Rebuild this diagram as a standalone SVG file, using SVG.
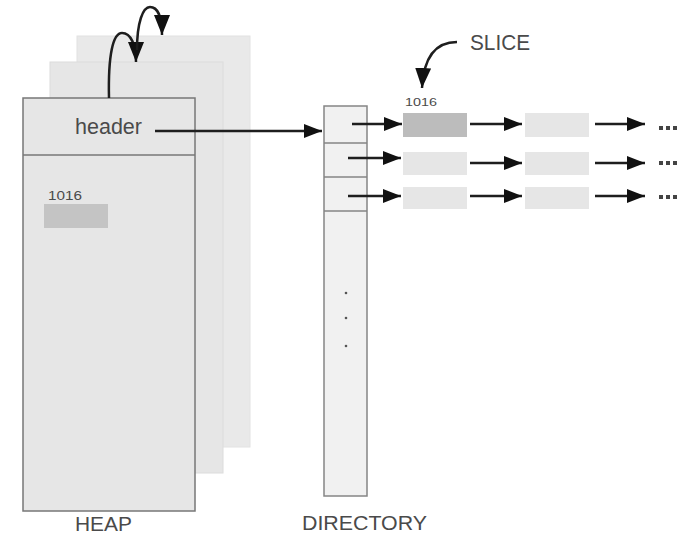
<svg xmlns="http://www.w3.org/2000/svg" width="689" height="535" viewBox="0 0 689 535">
<defs>
<style>
.lbl{font-family:"Liberation Sans",Arial,sans-serif;fill:#4a4a4a}
.p3{fill:#e9e9e9;stroke:#e2e2e2;stroke-width:1}
.p2{fill:#e6e6e6;stroke:#dcdcdc;stroke-width:1}
.front{fill:#e6e6e6;stroke:#777;stroke-width:1.5}
.dir{fill:#f1f1f1;stroke:#858585;stroke-width:1.5}
.cell{fill:#e6e6e6}
.hot{fill:#bcbcbc}
.conn{fill:none;stroke:#1e1e1e;stroke-width:2.5}
.dot{fill:#555}
</style>
<marker id="ah" markerUnits="userSpaceOnUse" markerWidth="20" markerHeight="16" refX="18" refY="7" orient="auto">
<path d="M0,0 L18,7 L0,14 z" fill="#111"/>
</marker>
<marker id="ahc" markerUnits="userSpaceOnUse" markerWidth="22" markerHeight="18" refX="20" refY="8" orient="auto">
<path d="M0,0 L20,8 L0,16 z" fill="#111"/>
</marker>
</defs>
<rect width="689" height="535" fill="#fff"/>

<g id="heap">
<rect class="p3" x="77" y="36" width="173" height="411"/>
<rect class="p2" x="50" y="62" width="173" height="411"/>
<rect class="front" x="23" y="98" width="172" height="413"/>
<line x1="23" y1="155" x2="195" y2="155" stroke="#777" stroke-width="1.5"/>
<text class="lbl" x="75" y="134" font-size="22" textLength="67" lengthAdjust="spacingAndGlyphs">header</text>
<text class="lbl" x="48" y="200" font-size="13" textLength="34" lengthAdjust="spacingAndGlyphs">1016</text>
<rect x="44" y="204" width="64" height="24" fill="#c4c4c4"/>
<text class="lbl" x="75" y="531" font-size="20" textLength="57" lengthAdjust="spacingAndGlyphs">HEAP</text>
</g>

<g id="directory">
<rect class="dir" x="324" y="106" width="43" height="390"/>
<line x1="324" y1="143" x2="367" y2="143" stroke="#858585" stroke-width="1.5"/>
<line x1="324" y1="177" x2="367" y2="177" stroke="#858585" stroke-width="1.5"/>
<line x1="324" y1="211" x2="367" y2="211" stroke="#858585" stroke-width="1.5"/>
<circle class="dot" cx="346" cy="293" r="1.3"/>
<circle class="dot" cx="346" cy="318" r="1.3"/>
<circle class="dot" cx="346" cy="346" r="1.3"/>
<text class="lbl" x="302" y="530" font-size="20" textLength="125" lengthAdjust="spacingAndGlyphs">DIRECTORY</text>
</g>

<g id="slices">
<text class="lbl" x="405" y="106" font-size="11" textLength="32" lengthAdjust="spacingAndGlyphs">1016</text>
<rect class="hot" x="403" y="113" width="64" height="24"/>
<rect class="cell" x="525" y="113" width="64" height="24"/>
<rect class="cell" x="403" y="152" width="64" height="23"/>
<rect class="cell" x="525" y="152" width="64" height="23"/>
<rect class="cell" x="403" y="187" width="64" height="22"/>
<rect class="cell" x="525" y="187" width="64" height="22"/>
<text class="lbl" x="470" y="50" font-size="22" textLength="60" lengthAdjust="spacingAndGlyphs">SLICE</text>
</g>

<g id="ellipsis" fill="#444">
<rect x="659" y="126" width="4" height="4"/><rect x="666" y="126" width="4" height="4"/><rect x="673" y="126" width="4" height="4"/>
<rect x="659" y="161" width="4" height="4"/><rect x="666" y="161" width="4" height="4"/><rect x="673" y="161" width="4" height="4"/>
<rect x="659" y="195" width="4" height="4"/><rect x="666" y="195" width="4" height="4"/><rect x="673" y="195" width="4" height="4"/>
</g>

<g id="connectors">
<path class="conn" d="M155,131 H322" marker-end="url(#ah)"/>
<path class="conn" d="M352,124 H402" marker-end="url(#ah)"/>
<path class="conn" d="M470,124 H522" marker-end="url(#ah)"/>
<path class="conn" d="M595,124 H645" marker-end="url(#ah)"/>
<path class="conn" d="M348,158 H401" marker-end="url(#ah)"/>
<path class="conn" d="M470,163 H522" marker-end="url(#ah)"/>
<path class="conn" d="M595,163 H645" marker-end="url(#ah)"/>
<path class="conn" d="M348,196 H401" marker-end="url(#ah)"/>
<path class="conn" d="M470,196 H522" marker-end="url(#ah)"/>
<path class="conn" d="M595,196 H645" marker-end="url(#ah)"/>
<path class="conn" d="M109,98 C108,55 113,33 122,33 C131,33 136,45 136,62" marker-end="url(#ahc)"/>
<path class="conn" d="M137,50 C137,22 143,7 150,7 C158,7 162,18 162,35" marker-end="url(#ahc)"/>
<path class="conn" d="M457,42 C440,42 424,52 422,88" marker-end="url(#ahc)"/>
</g>
</svg>
